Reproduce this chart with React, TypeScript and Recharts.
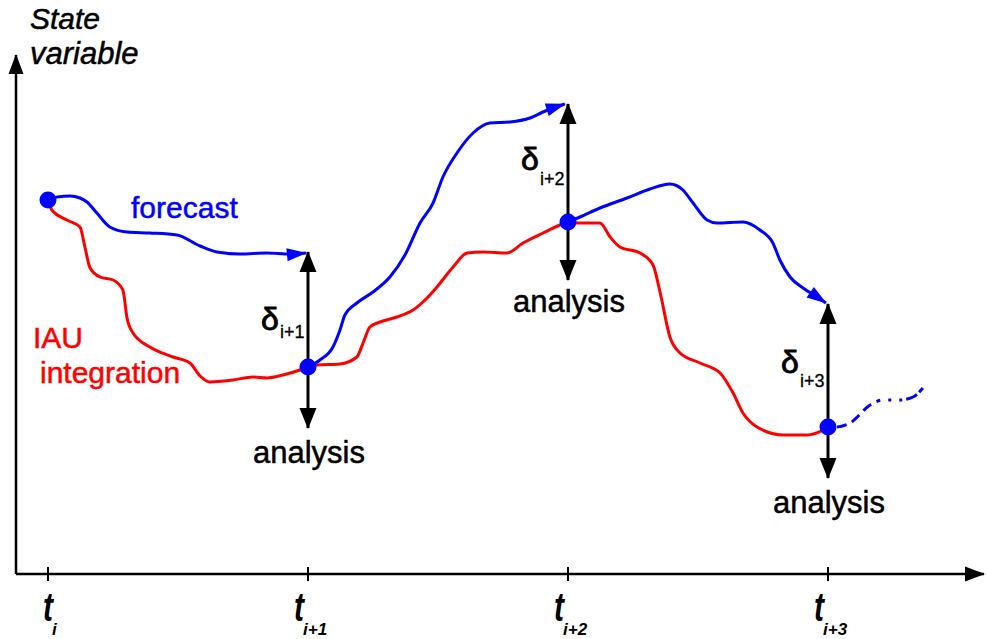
import React from 'react';
import { ComposedChart, Line, XAxis, YAxis, ReferenceDot } from 'recharts';

const W = 986;
const H = 639;
const MARGIN = { top: 40, right: 2, bottom: 0, left: 16 };
const X_AXIS_H = 65;
const PLOT_W = W - MARGIN.left - MARGIN.right;

// time in analysis cycles, state in arbitrary units
const X_MIN = -0.123;
const X_MAX = 3.6;
const Y_MAX = 534;

const cycles = [0, 1, 2, 3];
const cycleSubs = ['i', 'i+1', 'i+2', 'i+3'];

// forecast runs (blue), [time, state]
const forecast1 = [[0, 374], [0.035, 377], [0.085, 378], [0.123, 376], [0.15, 372], [0.188, 361], [0.238, 347], [0.304, 342], [0.392, 341], [0.496, 339], [0.585, 328], [0.65, 322], [0.738, 320], [0.842, 321], [0.931, 320], [0.992, 321]];
const forecast2 = [[1, 207], [1.046, 214], [1.096, 227], [1.123, 244], [1.142, 259], [1.188, 271], [1.25, 282], [1.315, 297], [1.373, 319], [1.431, 351], [1.481, 371], [1.519, 397], [1.573, 421], [1.635, 441], [1.7, 451], [1.777, 452], [1.854, 456], [1.904, 462], [1.942, 466], [1.988, 470]];
const forecast3 = [[2, 352], [2.046, 357], [2.123, 366], [2.227, 376], [2.315, 385], [2.392, 390], [2.442, 384], [2.481, 371], [2.535, 354], [2.573, 351], [2.673, 352], [2.738, 344], [2.788, 331], [2.815, 314], [2.854, 297], [2.904, 286], [2.958, 277], [2.992, 271]];
const forecast4 = [[3, 147], [3.035, 147], [3.085, 151], [3.162, 169], [3.212, 174], [3.277, 174], [3.327, 177], [3.365, 186]];

// IAU integrations (red)
const iau1 = [[0, 374], [0.015, 364], [0.073, 354], [0.123, 347], [0.142, 327], [0.162, 306], [0.2, 297], [0.25, 294], [0.288, 284], [0.304, 256], [0.327, 241], [0.392, 227], [0.481, 217], [0.546, 211], [0.585, 198], [0.623, 192], [0.712, 194], [0.788, 197], [0.842, 196], [0.904, 199], [0.969, 204], [1, 207]];
const iau2 = [[1, 207], [1.035, 209], [1.123, 210], [1.188, 217], [1.212, 231], [1.238, 247], [1.277, 252], [1.342, 257], [1.404, 264], [1.458, 276], [1.496, 287], [1.558, 307], [1.612, 321], [1.673, 322], [1.765, 321], [1.827, 331], [1.904, 341], [1.969, 349], [2, 352]];
const iau3 = [[2, 352], [2.035, 351], [2.123, 351], [2.162, 337], [2.2, 327], [2.277, 321], [2.327, 309], [2.354, 282], [2.392, 237], [2.431, 221], [2.508, 211], [2.585, 201], [2.635, 181], [2.673, 161], [2.727, 147], [2.827, 139], [2.919, 139], [2.981, 144], [3, 147]];

const analysisState = [374, 207, 352, 147];
// increment arrows at cycles 1..3
const incrementCycles = [1, 2, 3];
const forecastEnd = [322, 470, 270];
const incrementLow = [146, 294, 96];

const FONT = "'Liberation Sans', Arial, sans-serif";
const BLUE = '#0000ff';
const RED = '#ff0000';

const toPts = (a: number[][]) => a.map(([x, y]) => ({ x, y }));
const px = (x: number) => MARGIN.left + ((x - X_MIN) / (X_MAX - X_MIN)) * PLOT_W;

const CycleTick = (props: any) => {
    const { x, y, payload } = props;
    const sub = cycleSubs[cycles.indexOf(payload.value)];
    const tRight = x + (sub.length === 1 ? 5 : -4);
    return (
        <g fontFamily={FONT} fontStyle="italic" fontWeight="bold" fill="#000">
            <line x1={x} x2={x} y1={y - 7} y2={y + 7} stroke="#000" strokeWidth={2} />
            <text x={tRight - 10} y={y + 47} fontSize={40} textLength={10} lengthAdjust="spacingAndGlyphs">t</text>
            <text x={tRight - 1} y={y + 61} fontSize={17}>{sub}</text>
        </g>
    );
};

const lineCommon = { dataKey: 'y', dot: false, activeDot: false, isAnimationActive: false, legendType: 'none' as const };

const deltaPos = [
    { base: 330, subBase: 338 },
    { base: 170, subBase: 185 },
    { base: 373, subBase: 387 },
];
const analysisBase = [463, 312, 513];

export default function App() {
    return (
        <div style={{ position: 'absolute', left: 0, top: 0, width: W, height: H, background: '#fff' }}>
            <svg width={0} height={0} style={{ position: 'absolute' }}>
                <defs>
                    <marker id="headBlue" markerUnits="userSpaceOnUse" markerWidth={22} markerHeight={14} refX={19} refY={6.5} orient="auto" overflow="visible">
                        <path d="M0,0 L20,6.5 L0,13 z" fill={BLUE} />
                    </marker>
                    <marker id="headBlack" markerUnits="userSpaceOnUse" markerWidth={22} markerHeight={18} refX={20} refY={8.5} orient="auto-start-reverse" overflow="visible">
                        <path d="M0,0 L21,8.5 L0,17 z" fill="#000" />
                    </marker>
                    <marker id="headAxis" markerUnits="userSpaceOnUse" markerWidth={22} markerHeight={16} refX={19} refY={7.5} orient="auto" overflow="visible">
                        <path d="M0,0 L20,7.5 L0,15 z" fill="#000" />
                    </marker>
                </defs>
            </svg>
            <ComposedChart width={W} height={H} margin={MARGIN}>
                <XAxis
                    type="number"
                    dataKey="x"
                    domain={[X_MIN, X_MAX]}
                    ticks={cycles}
                    interval={0}
                    axisLine={false}
                    tickLine={false}
                    tickSize={0}
                    tickMargin={0}
                    height={X_AXIS_H}
                    tick={<CycleTick />}
                />
                <YAxis type="number" domain={[0, Y_MAX]} hide />

                {/* axes */}
                <Line {...lineCommon} data={toPts([[X_MIN, 0], [X_MAX, 0]])} type="linear" stroke="#000" strokeWidth={2.5} markerEnd="url(#headAxis)" />
                <Line {...lineCommon} data={toPts([[X_MIN, 0], [X_MIN, 519]])} type="linear" stroke="#000" strokeWidth={2.5} markerEnd="url(#headAxis)" />

                {/* IAU integration */}
                {[iau1, iau2, iau3].map((seg, i) => (
                    <Line key={`iau${i}`} {...lineCommon} data={toPts(seg)} type="monotone" stroke={RED} strokeWidth={3} />
                ))}

                {/* forecasts */}
                {[forecast1, forecast2, forecast3].map((seg, i) => (
                    <Line key={`fc${i}`} {...lineCommon} data={toPts(seg)} type="monotone" stroke={BLUE} strokeWidth={3} markerEnd="url(#headBlue)" />
                ))}
                <Line {...lineCommon} data={toPts(forecast4)} type="monotone" stroke={BLUE} strokeWidth={3} strokeDasharray="3 6 10 6 10 6 10 6 4 8 3 8 3 4 12" />

                {/* analysis increments */}
                {incrementCycles.map((c, i) => (
                    <Line
                        key={`inc${i}`}
                        {...lineCommon}
                        data={toPts([[c, forecastEnd[i]], [c, incrementLow[i]]])}
                        type="linear"
                        stroke="#000"
                        strokeWidth={3}
                        markerStart="url(#headBlack)"
                        markerEnd="url(#headBlack)"
                    />
                ))}

                {cycles.map((c, i) => (
                    <ReferenceDot key={`an${i}`} x={c} y={analysisState[i]} r={8.5} fill={BLUE} stroke="none" />
                ))}
            </ComposedChart>

            <svg width={W} height={H} style={{ position: 'absolute', left: 0, top: 0, pointerEvents: 'none' }} fontFamily={FONT}>
                <text x={30} y={29} fontSize={30} fontStyle="italic" fill="#000" stroke="#000" strokeWidth={0.5}>State</text>
                <text x={30} y={64} fontSize={31} fontStyle="italic" fill="#000" stroke="#000" strokeWidth={0.5}>variable</text>
                <text x={131} y={218} fontSize={30} fill={BLUE} stroke={BLUE} strokeWidth={0.5}>forecast</text>
                <text x={33} y={348} fontSize={30} fill={RED} stroke={RED} strokeWidth={0.5}>IAU</text>
                <text x={40} y={383} fontSize={30} fill={RED} stroke={RED} strokeWidth={0.5}>integration</text>
                {incrementCycles.map((c, i) => (
                    <g key={`d${i}`} fill="#000" stroke="#000">
                        <text x={px(c) - 47} y={deltaPos[i].base} fontSize={32} strokeWidth={0.9}>δ</text>
                        <text x={px(c) - 28} y={deltaPos[i].subBase} fontSize={18} strokeWidth={0.3}>{cycleSubs[c]}</text>
                        <text x={px(c) + 1} y={analysisBase[i]} fontSize={31} textAnchor="middle" strokeWidth={0.5}>analysis</text>
                    </g>
                ))}
            </svg>
        </div>
    );
}
